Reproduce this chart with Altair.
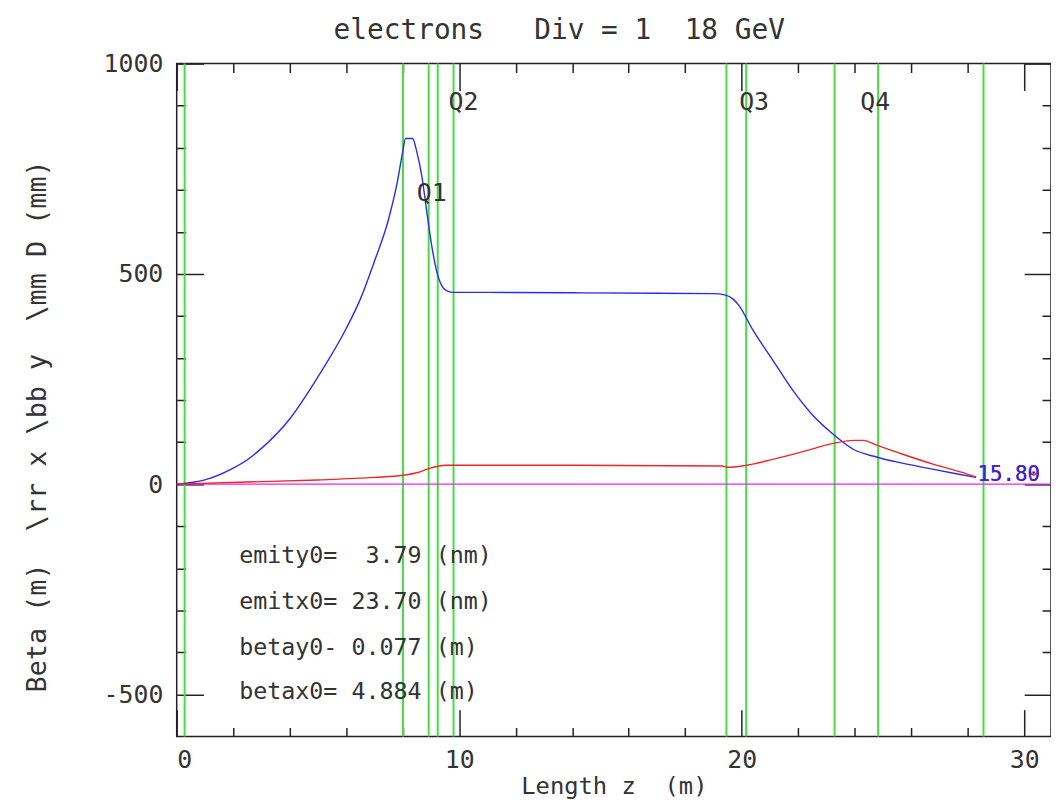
import altair as alt
import pandas as pd

NB = "\u00a0"

# ---- data ----
z_by = [0.0, 1.0, 2.0, 2.5, 3.0, 4.0, 5.0, 6.0, 6.5, 7.0, 7.5, 7.8, 8.0, 8.1, 8.35, 8.5,
        8.68, 8.85, 9.03, 9.2, 9.38, 9.55, 9.77, 11.0, 14.0, 17.0, 19.0, 19.4, 19.7, 19.9,
        20.4, 21.1, 21.8, 22.5, 23.25, 23.95, 24.8, 25.4, 26.8, 27.5, 28.3]
by = [0, 10, 38, 58, 85, 155, 255, 370, 440, 530, 630, 715, 790, 822, 822, 790,
      731, 649, 566, 507, 472, 460, 456, 456, 455, 454, 453, 450, 440, 425,
      366, 295, 224, 165, 118, 83, 64, 54, 35, 26, 16]

z_bx = [0.0, 2.5, 5.0, 7.0, 8.0, 8.5, 8.85, 9.2, 9.55, 9.8, 14.0, 19.3, 19.5, 20.1,
        21.1, 22.2, 23.25, 24.0, 24.3, 24.8, 25.7, 26.8, 27.8, 28.3]
bx = [0, 5, 10, 16, 21, 27, 35, 42, 45, 45, 45, 43, 40, 44,
      59, 78, 97, 104, 104, 92, 71, 47, 28, 17]

magnet_z = [0.28, 8.01, 8.92, 9.24, 9.80, 19.46, 20.16, 23.29, 24.83, 28.56]

q_labels = ["Q1", "Q2", "Q3", "Q4"]
q_z = [9.03, 10.15, 20.44, 24.73]
q_y = [692, 908, 908, 908]

info_lines = ["emity0=" + NB + NB + "3.79 (nm)", "emitx0= 23.70 (nm)",
              "betay0- 0.077 (m)", "betax0= 4.884 (m)"]
info_z = [2.21, 2.21, 2.21, 2.21]
info_y = [-172, -281, -389, -495]

end_labels = ["15.89", "15.80"]
end_series = ["bx", "by"]
end_z = [28.32, 28.3]
end_y = [22, 22]

x_ticks = list(range(0, 31, 2))
y_ticks = list(range(-500, 1001, 100))

title_text = "electrons" + NB * 3 + "Div = 1" + NB * 2 + "18 GeV"
x_title = "Length z" + NB * 2 + "(m)"
y_title = "Beta (m)" + NB * 2 + r"\rr x \bb y" + NB * 2 + r"\mm D (mm)"

# ---- styling ----
FONT = "DejaVu Sans Mono"
TXT = "#333333"
BLUE = "#2b2bf0"
RED = "#f02525"
MAG = "#f020f0"
GREEN = "#44dd44"

xs = alt.Scale(domain=[0, 30.95], nice=False, zero=False)
ys = alt.Scale(domain=[-600, 1000], nice=False, zero=False)


def x_axis(orient, show):
    kw = dict(orient=orient, values=x_ticks, offset=-27, tickSize=27, domain=False,
              grid=False, tickColor="#222222", tickWidth=1.5,
              tickDash={"condition": {"test": "datum.value % 10 !== 0", "value": [0, 18, 9]},
                        "value": [27, 0]},
              labels=show)
    if show:
        kw.update(labelExpr="datum.value % 10 === 0 ? '' + datum.value : ''",
                  labelFont=FONT, labelFontSize=25, labelColor=TXT, labelPadding=11,
                  title=x_title, titleFont=FONT, titleFontSize=24, titleFontWeight="normal",
                  titleColor=TXT, titlePadding=2)
    else:
        kw.update(title=None)
    return alt.Axis(**kw)


def y_axis(orient, show):
    kw = dict(orient=orient, values=y_ticks, offset=-27, tickSize=27, domain=False,
              grid=False, tickColor="#222222", tickWidth=1.5,
              tickDash={"condition": {"test": "datum.value % 500 !== 0", "value": [0, 18, 9]},
                        "value": [27, 0]},
              labels=show)
    if show:
        kw.update(labelExpr="datum.value % 500 === 0 ? '' + datum.value : ''",
                  labelFont=FONT, labelFontSize=25, labelColor=TXT, labelPadding=14,
                  title=y_title, titleFont=FONT, titleFontSize=27, titleFontWeight="normal",
                  titleColor=TXT, titlePadding=52, titleY=365)
    else:
        kw.update(title=None)
    return alt.Axis(**kw)


curves = pd.concat([
    pd.DataFrame({"z": z_by, "beta": by, "series": "by"}),
    pd.DataFrame({"z": z_bx, "beta": bx, "series": "bx"}),
])
color = alt.Color("series:N", scale=alt.Scale(domain=["by", "bx"], range=[BLUE, RED]), legend=None)

zero_df = pd.DataFrame({"beta": [0]})
mag_df = pd.DataFrame({"z": magnet_z})
q_df = pd.DataFrame({"label": q_labels, "z": q_z, "beta": q_y})
info_df = pd.DataFrame({"label": info_lines, "z": info_z, "beta": info_y})
end_df = pd.DataFrame({"label": end_labels, "series": end_series, "z": end_z, "beta": end_y})

zero_line = alt.Chart(zero_df).mark_rule(color=MAG, strokeWidth=1.3).encode(
    y=alt.Y("beta:Q", scale=ys, axis=None))

green = alt.Chart(mag_df).mark_rule(color=GREEN, strokeWidth=2).encode(
    x=alt.X("z:Q", scale=xs, axis=None))

lines = alt.Chart(curves).mark_line(strokeWidth=1.4, interpolate="monotone").encode(
    x=alt.X("z:Q", scale=xs, axis=x_axis("bottom", True)),
    y=alt.Y("beta:Q", scale=ys, axis=y_axis("left", True)),
    color=color, detail="series:N")

mirror = alt.Chart(curves).mark_line(strokeOpacity=0).encode(
    x=alt.X("z:Q", scale=xs, axis=x_axis("top", False)),
    y=alt.Y("beta:Q", scale=ys, axis=y_axis("right", False)),
    detail="series:N")

q_text = alt.Chart(q_df).mark_text(font=FONT, fontSize=25, color=TXT, align="center",
                                   baseline="middle").encode(
    x=alt.X("z:Q", scale=xs, axis=None), y=alt.Y("beta:Q", scale=ys, axis=None), text="label:N")

info_text = alt.Chart(info_df).mark_text(font=FONT, fontSize=23.5, color=TXT, align="left",
                                         baseline="middle").encode(
    x=alt.X("z:Q", scale=xs, axis=None), y=alt.Y("beta:Q", scale=ys, axis=None), text="label:N")

end_text = alt.Chart(end_df).mark_text(font=FONT, fontSize=21, align="left", baseline="middle",
                                       dx=1).encode(
    x=alt.X("z:Q", scale=xs, axis=None), y=alt.Y("beta:Q", scale=ys, axis=None),
    text="label:N", color=color)

chart = alt.layer(
    green, zero_line, lines, mirror, q_text, info_text, end_text
).resolve_axis(
    x="independent", y="independent"
).properties(
    width=881, height=678,
    autosize=alt.AutoSizeParams(type="none"),
    padding={"left": 170, "top": 53, "right": 0, "bottom": 62},
    title=alt.TitleParams(title_text, font=FONT, fontSize=28, fontWeight="normal",
                          color=TXT, anchor="middle", dx=-55, offset=7),
).configure_view(stroke="#222222", strokeWidth=1.5)

chart.save("out.html", embed_options={"renderer": "svg", "actions": False})
